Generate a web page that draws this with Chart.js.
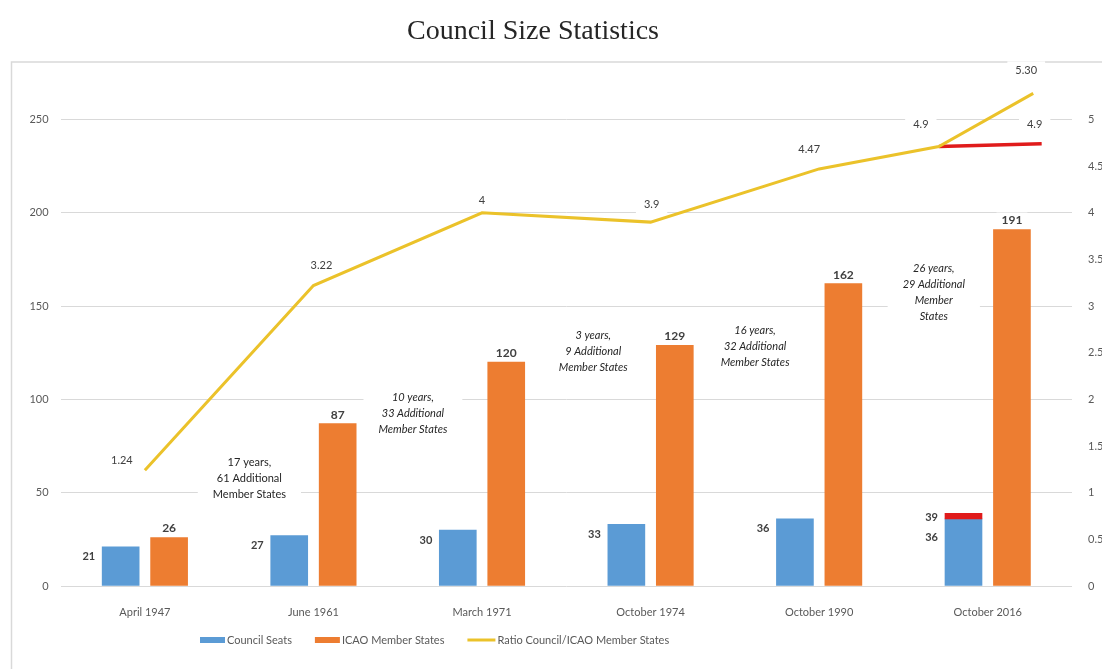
<!DOCTYPE html>
<html><head><meta charset="utf-8">
<script src="https://cdn.jsdelivr.net/npm/chart.js@4.4.1/dist/chart.umd.min.js"></script>
<style>html,body{margin:0;padding:0;background:#fff;}#wrap{width:1102px;height:669px;position:relative;}</style>
</head><body><div id="wrap"><canvas id="c" width="1102" height="669" style="width:1102px;height:669px"></canvas></div>
<script>
// ---------- data ----------
const chartTitle = 'Council Size Statistics';
const categories = ['April 1947','June 1961','March 1971','October 1974','October 1990','October 2016'];
const councilSeats = [21,27,30,33,36,36];
const proposedExtraSeats = [null,null,null,null,null,3];
const icaoMemberStates = [26,87,120,129,162,191];
// ratio line, x in category-index units
const ratioX = [0,1,2,3,4,4.71,5.27];
const ratioValues = [1.24,3.22,4,3.9,4.47,4.71,5.28];
const ratioLabels = ['1.24','3.22','4','3.9','4.47','4.9','5.30'];
const proposedRatioX = [4.71,5.32];
const proposedRatioValues = [4.71,4.74];
const proposedRatioLabels = [null,'4.9'];
const leftTicks = [0,50,100,150,200,250];
const rightTicks = [0,0.5,1,1.5,2,2.5,3,3.5,4,4.5,5];
const noteTexts = [
  ['17 years,','61 Additional','Member States'],
  ['10 years,','33 Additional','Member States'],
  ['3 years,','9 Additional','Member States'],
  ['16 years,','32 Additional','Member States'],
  ['26 years,','29 Additional','Member','States']
];

// ---------- layout / style ----------
const FONT = 'Lato, "Open Sans", sans-serif';
const noteAnchors = [ // [category-index, left-axis value of first line, italic]
  [0.62, 66, false],[1.59, 101, true],[2.66, 134, true],[3.62, 137, true],[4.68, 170, true]
];
const ratioLabelOffsets = [[-23,-10],[8,-20],[0,-12],[1,-18],[-10,-19],[-18,-22],[-7,-23]];
const proposedLabelOffsets = [null,[-7,-19]];
const GROUP_SHIFT = 0.1437; // half the distance between the two bars of a group, in category units

const C_BLUE='#5B9BD5', C_ORANGE='#ED7D31', C_YELLOW='#EBC22A', C_RED='#E01B1B', C_GRID='#D9D9D9', C_TXT='#595959', C_LBL='#404040';

const idx = categories.map((_,i)=>i);
function pts(xs, ys){ return xs.map((x,i)=>({x:x,y:ys[i]})); }
const extraRanges = proposedExtraSeats.map((e,i)=> e==null ? null : [councilSeats[i], councilSeats[i]+e]);

function whiteBox(ctx,cx,cy,w,h){ ctx.fillStyle='#fff'; ctx.fillRect(cx-w/2,cy-h/2,w,h); }

const overlay = {
  id:'overlay',
  beforeDraw(chart){
    const ctx=chart.ctx; ctx.save(); ctx.fillStyle='#fff'; ctx.fillRect(0,0,chart.width,chart.height);
    ctx.strokeStyle=C_GRID; ctx.lineWidth=1.5;
    ctx.beginPath(); ctx.moveTo(11.5,669); ctx.lineTo(11.5,62); ctx.lineTo(1102,62); ctx.stroke();
    ctx.restore();
  },
  beforeDatasetsDraw(chart){
    const ctx=chart.ctx, xl=chart.scales.xl, y=chart.scales.y; ctx.save();
    noteTexts.forEach((lines,k)=>{
      const a=noteAnchors[k]; const cx=xl.getPixelForValue(a[0]); const y0=y.getPixelForValue(a[1]);
      ctx.font=(a[2]?'italic ':'')+'11px '+FONT;
      const w=Math.max(...lines.map(t=>ctx.measureText(t).width))+30;
      const h=lines.length*16+12;
      whiteBox(ctx,cx,y0+(lines.length-1)*8,w,h);
    });
    ctx.font='11px '+FONT;
    const m3=chart.getDatasetMeta(3), m4=chart.getDatasetMeta(4);
    ratioLabels.forEach((t,i)=>{ const el=m3.data[i]; const o=ratioLabelOffsets[i];
      whiteBox(ctx,el.x+o[0],el.y+o[1],ctx.measureText(t).width+16,18); });
    proposedRatioLabels.forEach((t,i)=>{ if(!t) return; const el=m4.data[i]; const o=proposedLabelOffsets[i];
      whiteBox(ctx,el.x+o[0],el.y+o[1],ctx.measureText(t).width+16,18); });
    ctx.font='bold 12px '+FONT;
    const m2=chart.getDatasetMeta(2);
    icaoMemberStates.forEach((v,i)=>{ const el=m2.data[i]; whiteBox(ctx,el.x,el.y-9,ctx.measureText(String(v)).width+10,16); });
    ctx.restore();
  },
  afterDatasetsDraw(chart){
    const ctx=chart.ctx, xl=chart.scales.xl, y=chart.scales.y; ctx.save();
    ctx.textBaseline='middle';
    noteTexts.forEach((lines,k)=>{
      const a=noteAnchors[k]; const cx=xl.getPixelForValue(a[0]); const y0=y.getPixelForValue(a[1]);
      ctx.font=(a[2]?'italic ':'')+'11px '+FONT; ctx.fillStyle='#262626'; ctx.textAlign='center';
      lines.forEach((t,j)=>ctx.fillText(t,cx,y0+j*16));
    });
    const m0=chart.getDatasetMeta(0), m1=chart.getDatasetMeta(1), m2=chart.getDatasetMeta(2);
    ctx.font='bold 11px '+FONT; ctx.fillStyle=C_LBL; ctx.textAlign='right';
    councilSeats.forEach((v,i)=>{ const el=m0.data[i]; const extra=proposedExtraSeats[i];
      const lx=el.x-el.width/2-7;
      ctx.fillText(String(v),lx,el.y+(extra?19:10));
      if(extra){ const r=m1.data[i]; ctx.fillText(String(v+extra),lx,r.y+4); }
    });
    ctx.font='bold 12px '+FONT; ctx.textAlign='center';
    icaoMemberStates.forEach((v,i)=>{ const el=m2.data[i]; ctx.fillText(String(v),el.x,el.y-9); });
    ctx.font='11px '+FONT;
    const m3=chart.getDatasetMeta(3), m4=chart.getDatasetMeta(4);
    ratioLabels.forEach((t,i)=>{ const el=m3.data[i]; const o=ratioLabelOffsets[i]; ctx.fillText(t,el.x+o[0],el.y+o[1]); });
    proposedRatioLabels.forEach((t,i)=>{ if(!t) return; const el=m4.data[i]; const o=proposedLabelOffsets[i]; ctx.fillText(t,el.x+o[0],el.y+o[1]); });
    ctx.restore();
  },
  afterDraw(chart){
    const ctx=chart.ctx; ctx.save();
    ctx.font='28px "Liberation Serif", "DejaVu Serif", serif'; ctx.fillStyle='#262626';
    ctx.textAlign='center'; ctx.textBaseline='middle'; ctx.fillText(chartTitle,533,32);
    const items=[0,2,3]; let x=200; const ly=640;
    ctx.font='11px '+FONT; ctx.textAlign='left'; ctx.textBaseline='middle';
    items.forEach(i=>{ const ds=chart.data.datasets[i];
      if(ds.type==='line'){ ctx.strokeStyle=ds.borderColor; ctx.lineWidth=3; ctx.beginPath(); ctx.moveTo(x,ly); ctx.lineTo(x+28,ly); ctx.stroke(); x+=30; }
      else { ctx.fillStyle=ds.backgroundColor; ctx.fillRect(x,ly-3,25,6); x+=27; }
      ctx.fillStyle=C_TXT; ctx.fillText(ds.label,x,ly); x+=ctx.measureText(ds.label).width+23;
    });
    ctx.restore();
  }
};

const hiddenX = (shift)=>({type:'linear',display:false,min:-0.5+shift,max:5.5+shift,offset:false});

new Chart(document.getElementById('c'),{
  data:{
    labels:categories,
    datasets:[
      {type:'bar',label:'Council Seats',data:pts(idx,councilSeats),backgroundColor:C_BLUE,grouped:false,barThickness:37,xAxisID:'xb',yAxisID:'y',order:3},
      {type:'bar',label:'Proposed Council Seats',data:pts(idx,extraRanges),backgroundColor:C_RED,grouped:false,barThickness:37,xAxisID:'xb',yAxisID:'y',order:2},
      {type:'bar',label:'ICAO Member States',data:pts(idx,icaoMemberStates),backgroundColor:C_ORANGE,grouped:false,barThickness:37,xAxisID:'xo',yAxisID:'y',order:2},
      {type:'line',label:'Ratio Council/ICAO Member States',data:pts(ratioX,ratioValues),borderColor:C_YELLOW,backgroundColor:C_YELLOW,borderWidth:3,pointRadius:0,tension:0,xAxisID:'xl',yAxisID:'y1',order:0},
      {type:'line',label:'Proposed ratio',data:pts(proposedRatioX,proposedRatioValues),borderColor:C_RED,backgroundColor:C_RED,borderWidth:3.5,pointRadius:0,tension:0,xAxisID:'xl',yAxisID:'y1',order:1}
    ]
  },
  options:{
    responsive:false, animation:false, devicePixelRatio:1,
    layout:{padding:{top:63.5,left:0,right:0,bottom:0}},
    plugins:{legend:{display:false},title:{display:false},tooltip:{enabled:false}},
    scales:{
      x:{type:'category',offset:true,grid:{display:false},border:{display:false},
         ticks:{color:C_TXT,font:{family:FONT,size:11},padding:12,maxRotation:0},
         afterFit(s){ s.height=83; }},
      xl:hiddenX(0),
      xb:hiddenX(GROUP_SHIFT),
      xo:hiddenX(-GROUP_SHIFT),
      y:{type:'linear',position:'left',min:0,max:280,
         grid:{color:C_GRID,drawTicks:false},border:{display:false},
         ticks:{color:C_TXT,font:{family:FONT,size:11},padding:12},
         afterBuildTicks(s){ s.ticks=leftTicks.map(v=>({value:v})); },
         afterFit(s){ s.width=60.6; }},
      y1:{type:'linear',position:'right',min:0,max:5.6,
         grid:{display:false,drawTicks:false},border:{display:false},
         ticks:{color:C_TXT,font:{family:FONT,size:11},padding:16,callback:v=>String(v)},
         afterBuildTicks(s){ s.ticks=rightTicks.map(v=>({value:v})); },
         afterFit(s){ s.width=30; }}
    }
  },
  plugins:[overlay]
});
</script></body></html>
